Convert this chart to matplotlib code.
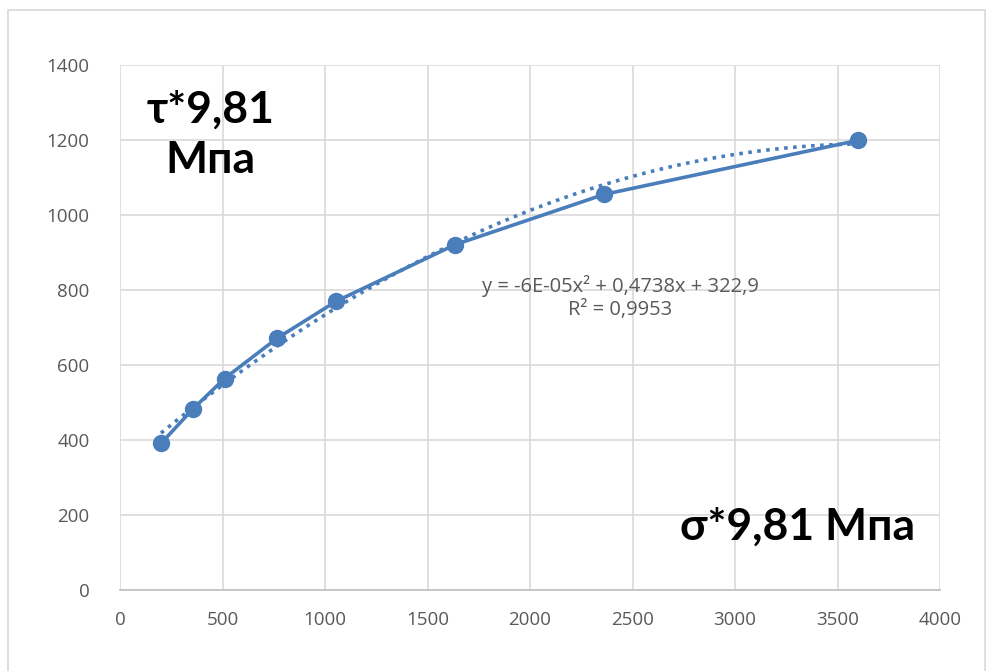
import numpy as np
import matplotlib
matplotlib.use("Agg")
import matplotlib.pyplot as plt
from matplotlib.patches import Rectangle

sigma = [200, 358, 510, 768, 1055, 1635, 2362, 3600]
tau = [391, 484, 564, 672, 770, 921, 1055, 1199]
x_ticks = [0, 500, 1000, 1500, 2000, 2500, 3000, 3500, 4000]
y_ticks = [0, 200, 400, 600, 800, 1000, 1200, 1400]
eq_text = "y = -6E-05x² + 0,4738x + 322,9\nR² = 0,9953"

blue = "#4A7EBB"
grid_c = "#D9D9D9"
txt_c = "#595959"

fig = plt.figure(figsize=(9.9, 6.71), dpi=100)
fig.patches.append(Rectangle((8/990, -0.1), (985-8)/990, (661+0.1*671)/671,
                             transform=fig.transFigure, fill=False,
                             edgecolor="#D9D9D9", linewidth=1.2))
ax = fig.add_axes([120/990, 81/671, 820/990, 525/671])
ax.set_xlim(0, 4000)
ax.set_ylim(0, 1400)
ax.set_xticks(x_ticks)
ax.set_yticks(y_ticks)
ax.grid(True, color=grid_c, linewidth=1.2)
ax.set_axisbelow(True)
for s in ["top", "right", "left"]:
    ax.spines[s].set_visible(False)
ax.spines["bottom"].set_color("#BFBFBF")
ax.spines["bottom"].set_linewidth(1.2)
ax.tick_params(length=0, labelsize=13.5, labelcolor=txt_c, pad=15)
ax.tick_params(axis="y", pad=22)
for lab in ax.get_xticklabels() + ax.get_yticklabels():
    lab.set_family(["Open Sans", "DejaVu Sans"])

# polynomial trendline fitted from the data
coef = np.polyfit(sigma, tau, 2)
xs = np.linspace(min(sigma), max(sigma), 300)
ax.plot(xs, np.polyval(coef, xs), linestyle=(0, (1, 1.5)), color=blue,
        linewidth=2.6, zorder=2)
ax.plot(sigma, tau, color=blue, linewidth=2.6, marker="o", markersize=11.5,
        zorder=3)

ax.text(0.61, 0.558, eq_text, transform=ax.transAxes, ha="center",
        va="center", fontsize=14.5, color=txt_c,
        family=["Open Sans", "DejaVu Sans"], linespacing=1.2)

bold = ["Lato", "DejaVu Sans"]
ax.text(0.11, 0.867, "τ*9,81\nМпа", transform=ax.transAxes,
        ha="center", va="center", fontsize=32, fontweight="bold",
        family=bold, linespacing=1.3)
ax.text(0.97, 0.12, "σ*9,81 Мпа", transform=ax.transAxes, ha="right",
        va="center", fontsize=32, fontweight="bold", family=bold)

fig.savefig("out.png", dpi=100, facecolor="white")
